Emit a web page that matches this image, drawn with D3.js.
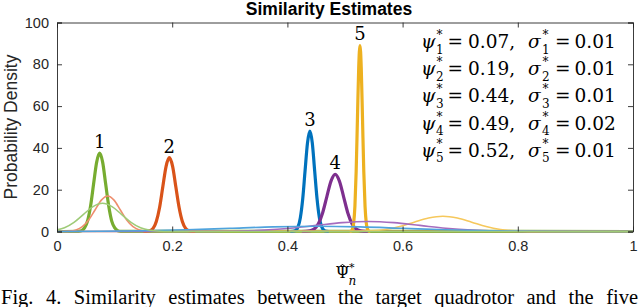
<!DOCTYPE html>
<html>
<head>
<meta charset="utf-8">
<script src="https://cdn.jsdelivr.net/npm/d3@7"></script>
<style>
  html, body { margin: 0; padding: 0; background: #fff; }
  svg { display: block; }
</style>
</head>
<body>
<div id="chart"></div>
<script>
(function () {
  const WIDTH = 640;
  const HEIGHT = 307;

  const xTicks = [0, 0.2, 0.4, 0.6, 0.8, 1];
  const yTicks = [0, 20, 40, 60, 80, 100];

  // thick curves: estimates for each candidate (x, density)
  const est1 = [[0, 0], [0.037, 0.1], [0.0425, 0.4], [0.0478, 1.7], [0.053, 5.0], [0.0583, 12.2], [0.0635, 22.7], [0.0688, 33.1], [0.074, 37.5], [0.0793, 33.1], [0.0845, 22.7], [0.0898, 12.2], [0.095, 5.0], [0.1003, 1.7], [0.1055, 0.4], [0.111, 0.1], [1, 0]];
  const est2 = [[0.15, 0], [0.155, 0.1], [0.1611, 0.4], [0.1668, 1.5], [0.1724, 4.8], [0.1781, 11.5], [0.1837, 21.4], [0.1894, 31.2], [0.195, 35.3], [0.2007, 31.2], [0.2063, 21.4], [0.212, 11.5], [0.2176, 4.8], [0.2233, 1.5], [0.2289, 0.4], [0.235, 0.1], [0.24, 0]];
  const est3 = [[0.405, 0], [0.41, 0.1], [0.4141, 0.5], [0.4183, 2.1], [0.4224, 6.5], [0.4266, 15.6], [0.4307, 29.1], [0.4349, 42.4], [0.439, 48], [0.4432, 42.4], [0.4473, 29.1], [0.4515, 15.6], [0.4556, 6.5], [0.4598, 2.1], [0.4639, 0.5], [0.468, 0.1], [0.472, 0]];
  const est4 = [[0.425, 0], [0.432, 0.05], [0.4392, 0.3], [0.4465, 1.2], [0.4538, 3.7], [0.4611, 8.9], [0.4684, 16.6], [0.4757, 24.1], [0.483, 27.3], [0.4903, 24.1], [0.4976, 16.6], [0.5049, 8.9], [0.5122, 3.7], [0.5195, 1.2], [0.5268, 0.3], [0.534, 0.05], [0.54, 0]];
  const est5 = [[0.508, 0], [0.5106, 0.2], [0.5128, 1.0], [0.515, 3.9], [0.5172, 12.0], [0.5194, 28.9], [0.5216, 54.0], [0.5238, 78.5], [0.526, 89], [0.5282, 78.5], [0.5304, 54.0], [0.5326, 28.9], [0.5348, 12.0], [0.537, 3.9], [0.5392, 1.0], [0.5414, 0.2], [0.544, 0]];

  // thin curves: broader estimates
  const wide2 = [[0, 0], [0.022, 0.2], [0.033, 0.75], [0.044, 2.3], [0.055, 5.5], [0.066, 10.3], [0.077, 15.0], [0.088, 17], [0.099, 15.0], [0.11, 10.3], [0.121, 5.5], [0.132, 2.3], [0.143, 0.75], [0.154, 0.2], [1, 0]];
  const wide5 = [[0, 0], [0.52, 0.08], [0.545, 0.32], [0.57, 0.99], [0.595, 2.37], [0.62, 4.43], [0.645, 6.44], [0.67, 7.3], [0.695, 6.44], [0.72, 4.43], [0.745, 2.37], [0.77, 0.99], [0.795, 0.32], [0.82, 0.08], [1, 0]];
  const wide4 = [[0, 0], [0.27, 0.05], [0.315, 0.21], [0.36, 0.65], [0.405, 1.56], [0.45, 2.91], [0.495, 4.24], [0.54, 4.8], [0.585, 4.24], [0.63, 2.91], [0.675, 1.56], [0.72, 0.65], [0.765, 0.21], [0.81, 0.05], [1, 0]];
  const wide3 = [[0, 0.03], [0.075, 0.11], [0.15, 0.34], [0.225, 0.81], [0.3, 1.52], [0.375, 2.21], [0.45, 2.5], [0.525, 2.21], [0.6, 1.52], [0.675, 0.81], [0.75, 0.34], [0.825, 0.11], [0.9, 0.03], [1, 0]];
  const wide1 = [[0, 0.77], [0.013, 1.8], [0.0295, 4.4], [0.046, 8.2], [0.0625, 11.9], [0.079, 13.5], [0.0955, 11.9], [0.112, 8.2], [0.1285, 4.4], [0.145, 1.8], [0.1615, 0.6], [0.178, 0.15], [0.1945, 0.03], [0.25, 0], [1, 0]];

  const thickSeries = [
    { data: est1, color: "#77AC30" },
    { data: est2, color: "#D95319" },
    { data: est3, color: "#0072BD" },
    { data: est4, color: "#7E2F8E" },
    { data: est5, color: "#EDB120" }
  ];
  const thinSeries = [
    { data: wide2, color: "#EE8E6E" },
    { data: wide5, color: "#F6C85C" },
    { data: wide4, color: "#A66CBE" },
    { data: wide3, color: "#4FA3DD" },
    { data: wide1, color: "#9FCB78" }
  ];

  const peakLabels = [
    { text: "1", x: 0.074, y: 37.5 },
    { text: "2", x: 0.195, y: 35.3 },
    { text: "3", x: 0.439, y: 48 },
    { text: "4", x: 0.483, y: 27.3 },
    { text: "5", x: 0.526, y: 89 }
  ];

  const psiVals = ["0.07", "0.19", "0.44", "0.49", "0.52"];
  const sigmaVals = ["0.01", "0.01", "0.01", "0.02", "0.01"];

  const caption = "Fig. 4. Similarity estimates between the target quadrotor and the five";

  const margin = { left: 57, right: 7, top: 22.5, bottom: 76 };
  const axisColor = "#262626";
  const sansFont = "'Liberation Sans', Arial, Helvetica, sans-serif";
  const serifFont = "'Liberation Serif', 'Times New Roman', serif";
  const mathFont = "'DejaVu Serif', serif";

  const svg = d3.select("#chart").append("svg")
    .attr("width", WIDTH)
    .attr("height", HEIGHT);

  const x = d3.scaleLinear().domain([0, 1]).range([margin.left, WIDTH - margin.right]);
  const y = d3.scaleLinear().domain([0, 100]).range([HEIGHT - margin.bottom + 0.5, margin.top]);

  // curves
  const line = d3.line()
    .x(d => x(d[0]))
    .y(d => y(d[1]))
    .curve(d3.curveMonotoneX);

  svg.append("clipPath").attr("id", "plotclip")
    .append("rect")
    .attr("x", x(0)).attr("y", y(100))
    .attr("width", x(1) - x(0)).attr("height", y(0) - y(100) + 2);

  const curves = svg.append("g").attr("clip-path", "url(#plotclip)");

  curves.selectAll("path.thick")
    .data(thickSeries)
    .join("path")
    .attr("class", "thick")
    .attr("d", d => line(d.data))
    .attr("fill", "none")
    .attr("stroke", d => d.color)
    .attr("stroke-width", 3.2)
    .attr("stroke-linejoin", "round");

  curves.selectAll("path.thin")
    .data(thinSeries)
    .join("path")
    .attr("class", "thin")
    .attr("d", d => line(d.data))
    .attr("fill", "none")
    .attr("stroke", d => d.color)
    .attr("stroke-width", 1.6)
    .attr("stroke-linejoin", "round");

  // axes box with inward ticks
  const xAxisB = d3.axisBottom(x).tickValues(xTicks).tickSize(-5).tickPadding(9)
    .tickFormat(d => d === 0 || d === 1 ? d3.format("d")(d) : d3.format(".1f")(d));
  const xAxisT = d3.axisTop(x).tickValues(xTicks).tickSize(-5).tickFormat("");
  const yAxisL = d3.axisLeft(y).tickValues(yTicks).tickSize(-5).tickPadding(8);
  const yAxisR = d3.axisRight(y).tickValues(yTicks).tickSize(-5).tickFormat("");

  function styleAxis(g) {
    g.selectAll("path, line").attr("stroke", axisColor).attr("stroke-width", 0.9);
    g.selectAll("text").attr("fill", axisColor)
      .style("font-family", sansFont).style("font-size", "14.5px");
  }

  svg.append("g").attr("transform", `translate(0,${y(0)})`).call(xAxisB).call(styleAxis)
    .call(g => g.select(".domain").remove());
  svg.append("g").attr("transform", `translate(0,${y(100)})`).call(xAxisT).call(styleAxis);
  svg.append("g").attr("transform", `translate(${x(0)},0)`).call(yAxisL).call(styleAxis);
  svg.append("g").attr("transform", `translate(${x(1)},0)`).call(yAxisR).call(styleAxis);

  // title
  svg.append("text")
    .attr("x", 329).attr("y", 15)
    .attr("text-anchor", "middle")
    .style("font-family", sansFont).style("font-weight", "bold").style("font-size", "17.5px")
    .attr("fill", "#000")
    .text("Similarity Estimates");

  // y label
  svg.append("text")
    .attr("transform", `translate(16.5,${(y(0) + y(100)) / 2}) rotate(-90)`)
    .attr("text-anchor", "middle")
    .style("font-family", sansFont).style("font-size", "17.5px")
    .attr("fill", axisColor)
    .text("Probability Density");

  // peak numbers
  svg.selectAll("text.peak")
    .data(peakLabels)
    .join("text")
    .attr("class", "peak")
    .attr("x", d => x(d.x))
    .attr("y", d => y(d.y) - 5)
    .attr("text-anchor", "middle")
    .style("font-family", mathFont).style("font-size", "18px")
    .text(d => d.text);

  // legend lines: psi*_i = v,  sigma*_i = s  (one text element per line)
  const small = 12;
  const legend = svg.append("g")
    .style("font-family", mathFont).style("font-size", "18.5px");
  psiVals.forEach((v, i) => {
    const idx = String(i + 1);
    const by = 48 + i * 27.2;
    const t = legend.append("text").attr("x", 422).attr("y", by);
    t.append("tspan").attr("x", 421).attr("y", by).style("font-style", "italic").text("ψ");
    t.append("tspan").attr("x", 436.5).attr("y", by - 9).style("font-size", small + "px").text("*");
    t.append("tspan").attr("x", 436).attr("y", by + 5.5).style("font-size", small + "px").text(idx);
    t.append("tspan").attr("x", 447.5).attr("y", by).text("=");
    t.append("tspan").attr("x", 468).attr("y", by).text(v + ",");
    t.append("tspan").attr("x", 528).attr("y", by).style("font-style", "italic").text("σ");
    t.append("tspan").attr("x", 542.5).attr("y", by - 9).style("font-size", small + "px").text("*");
    t.append("tspan").attr("x", 542).attr("y", by + 5.5).style("font-size", small + "px").text(idx);
    t.append("tspan").attr("x", 555).attr("y", by).text("=");
    t.append("tspan").attr("x", 574.5).attr("y", by).text(sigmaVals[i]);
  });

  // x label: hat Psi with star and subscript n
  const xl = svg.append("text")
    .style("font-family", mathFont).style("font-size", "16px");
  xl.append("tspan").attr("x", 335.5).attr("y", 278).text("Ψ");
  xl.append("tspan").attr("x", 349).attr("y", 270.5).style("font-size", "11px").text("*");
  xl.append("tspan").attr("x", 348.5).attr("y", 284.5).style("font-size", "12px").style("font-style", "italic").text("n");
  svg.append("path").attr("d", "M338.5,267.5 L342.5,264.5 L346.5,267.5")
    .attr("fill", "none").attr("stroke", "#000").attr("stroke-width", 1);

  // caption, justified across the width
  const words = caption.split(" ");
  const cg = svg.append("g");
  const wordNodes = words.map(w => cg.append("text")
    .attr("y", 304)
    .style("font-family", serifFont).style("font-size", "20.5px")
    .text(w));
  const widths = wordNodes.map(t => t.node().getComputedTextLength());
  const left = 1, right = 638;
  const gap = (right - left - d3.sum(widths)) / (words.length - 1);
  let cx = left;
  wordNodes.forEach((t, i) => { t.attr("x", cx); cx += widths[i] + gap; });
})();
</script>
</body>
</html>
